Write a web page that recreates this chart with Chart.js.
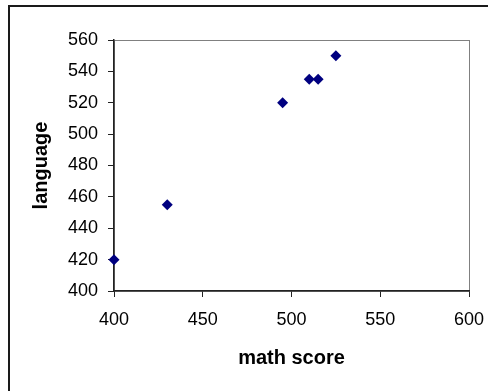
<!DOCTYPE html>
<html>
<head>
<meta charset="utf-8">
<script src="https://cdn.jsdelivr.net/npm/chart.js@4/dist/chart.umd.min.js"></script>
<style>
  html, body { margin: 0; padding: 0; background: #fff; }
  #wrap { position: relative; width: 488px; height: 391px; }
</style>
</head>
<body>
<div id="wrap"><canvas id="chart" width="488" height="391"></canvas></div>
<script>
// Math score vs. language score
const mathScores = [400, 430, 495, 510, 515, 525];
const languageScores = [420, 455, 520, 535, 535, 550];
const xTickValues = [400, 450, 500, 550, 600];
const yTickValues = [400, 420, 440, 460, 480, 500, 520, 540, 560];
const xTitle = 'math score';
const yTitle = 'language';

const points = mathScores.map((m, i) => ({ x: m, y: languageScores[i] }));

const FONT = "'Liberation Sans', Arial, sans-serif";
const AXIS_COLOR = '#222';

// Outer frame of the chart object plus the grey plot-area outline
const framePlugin = {
  id: 'frame',
  beforeDraw(chart) {
    const { ctx, chartArea: a } = chart;
    ctx.save();
    ctx.fillStyle = '#fff';
    ctx.fillRect(0, 0, chart.width, chart.height);
    ctx.fillStyle = '#1a1a1a';
    ctx.fillRect(8, 5, 2, chart.height - 5);
    ctx.fillRect(8, 5, chart.width - 8, 2);
    ctx.strokeStyle = '#808080';
    ctx.lineWidth = 1;
    ctx.strokeRect(Math.round(a.left) + 0.5, Math.round(a.top) + 0.5,
                   Math.round(a.right - a.left), Math.round(a.bottom - a.top));
    ctx.restore();
  }
};

new Chart(document.getElementById('chart'), {
  type: 'scatter',
  data: {
    datasets: [{
      data: points,
      pointStyle: 'rectRot',
      pointRadius: 5.5,
      pointHoverRadius: 5.5,
      pointBorderWidth: 0,
      backgroundColor: '#000080',
      borderColor: '#000080',
      clip: false
    }]
  },
  options: {
    responsive: false,
    animation: false,
    events: [],
    layout: { padding: { left: 0, top: 40, right: 19, bottom: 0 } },
    plugins: {
      legend: { display: false },
      tooltip: { enabled: false }
    },
    scales: {
      x: {
        type: 'linear',
        min: xTickValues[0],
        max: xTickValues[xTickValues.length - 1],
        afterBuildTicks(scale) { scale.ticks = xTickValues.map(v => ({ value: v })); },
        afterFit(scale) {
          scale.height = 100;
          scale.paddingLeft = 0;
          scale.paddingRight = 0;
        },
        grid: { drawOnChartArea: false, drawTicks: true, tickLength: 6, color: AXIS_COLOR, lineWidth: 1 },
        border: { display: true, color: AXIS_COLOR, width: 1.5 },
        ticks: { color: '#000', padding: 12, maxRotation: 0, font: { family: FONT, size: 18 } },
        title: {
          display: true, text: xTitle, color: '#000',
          padding: { top: 0, bottom: 21 },
          font: { family: FONT, size: 20, weight: 'bold' }
        }
      },
      y: {
        type: 'linear',
        min: yTickValues[0],
        max: yTickValues[yTickValues.length - 1],
        afterBuildTicks(scale) { scale.ticks = yTickValues.map(v => ({ value: v })); },
        afterFit(scale) {
          scale.width = 114;
          scale.paddingTop = 0;
          scale.paddingBottom = 0;
        },
        grid: { drawOnChartArea: false, drawTicks: true, tickLength: 6, color: AXIS_COLOR, lineWidth: 1 },
        border: { display: true, color: AXIS_COLOR, width: 1.5 },
        ticks: { color: '#000', padding: 10, font: { family: FONT, size: 18 } },
        title: {
          display: true, text: yTitle, color: '#000',
          padding: { top: 29, bottom: 0 },
          font: { family: FONT, size: 20, weight: 'bold' }
        }
      }
    }
  },
  plugins: [framePlugin]
});
</script>
</body>
</html>
